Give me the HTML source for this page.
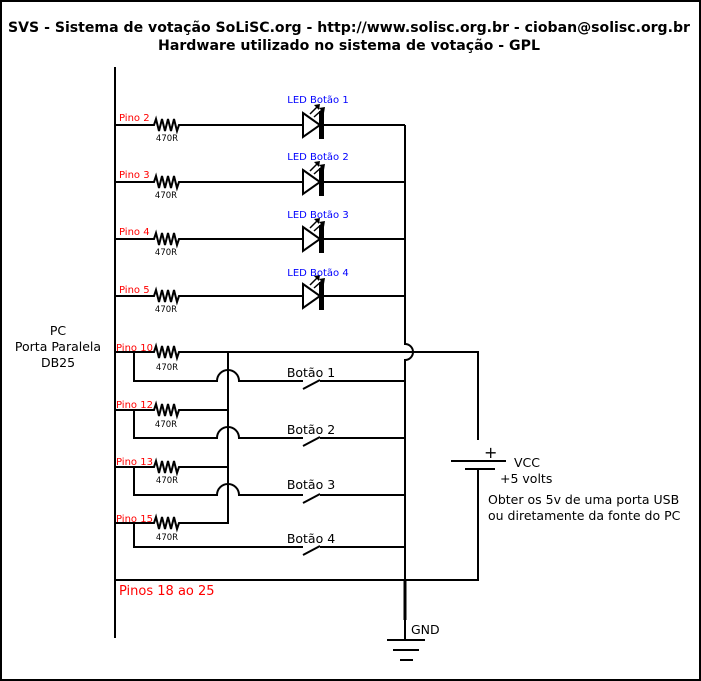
<!DOCTYPE html>
<html><head><meta charset="utf-8"><style>
html,body{margin:0;padding:0;background:#fff}
svg{display:block}
text{font-family:"DejaVu Sans","Liberation Sans",sans-serif}
</style></head><body>
<svg width="701" height="681" viewBox="0 0 701 681" xmlns="http://www.w3.org/2000/svg">
<rect x="1" y="1" width="699" height="679" fill="#fff" stroke="#000" stroke-width="2"/>
<text x="349" y="32" text-anchor="middle" font-size="14" font-weight="bold" textLength="682" lengthAdjust="spacingAndGlyphs">SVS - Sistema de votação SoLiSC.org - http://www.solisc.org.br - cioban@solisc.org.br</text>
<text x="349" y="50" text-anchor="middle" font-size="14" font-weight="bold" textLength="382" lengthAdjust="spacingAndGlyphs">Hardware utilizado no sistema de votação - GPL</text>

<g fill="none" stroke="#000" stroke-width="2">
<line x1="115" y1="67" x2="115" y2="638"/>
<path d="M115 125H154l2-6 3 12 3-12 3 12 3-12 3 12 3-12 3 12 2-6H405"/>
<path d="M115 182H154l2-6 3 12 3-12 3 12 3-12 3 12 3-12 3 12 2-6H405"/>
<path d="M115 239H154l2-6 3 12 3-12 3 12 3-12 3 12 3-12 3 12 2-6H405"/>
<path d="M115 296H154l2-6 3 12 3-12 3 12 3-12 3 12 3-12 3 12 2-6H405"/>
<path d="M405 125V344a8 8 0 0 1 0 16V580"/>
<line x1="405" y1="580" x2="405" y2="620" stroke-width="3"/>
<line x1="405" y1="620" x2="405" y2="640"/>
<line x1="387" y1="640" x2="425" y2="640"/>
<line x1="393" y1="650" x2="419" y2="650"/>
<line x1="400" y1="660" x2="413" y2="660"/>
<path d="M115 352H154l2-6 3 12 3-12 3 12 3-12 3 12 3-12 3 12 2-6H478V440"/>
<line x1="451" y1="461" x2="506" y2="461"/>
<line x1="465" y1="469" x2="495" y2="469"/>
<path d="M478 469V580H115"/>
<line x1="228" y1="352" x2="228" y2="524"/>
<path d="M115 410H154l2-6 3 12 3-12 3 12 3-12 3 12 3-12 3 12 2-6H228"/>
<path d="M115 467H154l2-6 3 12 3-12 3 12 3-12 3 12 3-12 3 12 2-6H228"/>
<path d="M115 523H154l2-6 3 12 3-12 3 12 3-12 3 12 3-12 3 12 2-6H228"/>
<path d="M134 352V381H217a11 11 0 0 1 22 0H303M303 389L320 380M320 381H405"/>
<path d="M134 410V438H217a11 11 0 0 1 22 0H303M303 446L320 437M320 438H405"/>
<path d="M134 467V495H217a11 11 0 0 1 22 0H303M303 503L320 494M320 495H405"/>
<path d="M134 523V547H303M303 555L320 546M320 547H405"/>
</g>
<g stroke="#000" stroke-width="2" fill="#fff">
<g id="led"><path d="M303 113L320 125L303 137Z"/><rect x="319" y="111" width="5" height="28" fill="#000" stroke="none"/>
<path d="M310 114L318 106M314 117L323 109" fill="none" stroke-width="1.5"/>
<path d="M314 105L320 104L319 110Z M319 108L325 107L324 113Z" fill="#000" stroke="none"/></g>
<use href="#led" y="57"/><use href="#led" y="114"/><use href="#led" y="171"/>
</g>
<g font-size="10" fill="#0000ff" text-anchor="middle">
<text x="318" y="103">LED Botão 1</text><text x="318" y="160">LED Botão 2</text><text x="318" y="218">LED Botão 3</text><text x="318" y="276">LED Botão 4</text>
</g>
<g font-size="10" fill="#f00">
<text x="119" y="121">Pino 2</text><text x="119" y="178">Pino 3</text><text x="119" y="235">Pino 4</text><text x="119" y="293">Pino 5</text>
<text x="116" y="351">Pino 10</text><text x="116" y="408">Pino 12</text><text x="116" y="465">Pino 13</text><text x="116" y="522">Pino 15</text>
</g>
<g font-size="8.5" fill="#000" text-anchor="middle">
<text x="167" y="141">470R</text><text x="166" y="198">470R</text><text x="166" y="255">470R</text><text x="166" y="312">470R</text>
<text x="167" y="370">470R</text><text x="166" y="427">470R</text><text x="167" y="483">470R</text><text x="167" y="540">470R</text>
</g>
<g font-size="12.5" fill="#000" text-anchor="middle">
<text x="311" y="377">Botão 1</text><text x="311" y="434">Botão 2</text><text x="311" y="489">Botão 3</text><text x="311" y="543">Botão 4</text>
</g>
<g font-size="12.5" fill="#000" text-anchor="middle">
<text x="58" y="335">PC</text><text x="58" y="351">Porta Paralela</text><text x="58" y="367">DB25</text>
</g>
<text x="484" y="458" font-size="16" fill="#000">+</text>
<g font-size="12.5" fill="#000">
<text x="514" y="467">VCC</text>
<text x="500" y="483">+5 volts</text>
<text x="488" y="504">Obter os 5v de uma porta USB</text>
<text x="488" y="520">ou diretamente da fonte do PC</text>
<text x="411" y="634">GND</text>
</g>
<text x="119" y="595" font-size="13" fill="#f00">Pinos 18 ao 25</text>
</svg>
</body></html>
